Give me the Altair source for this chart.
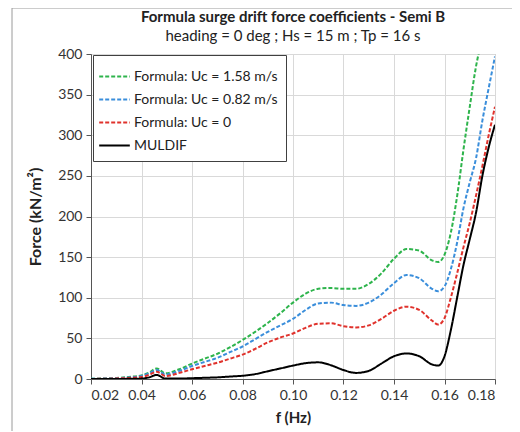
import altair as alt
import pandas as pd

freq = [0.02, 0.025, 0.03, 0.035, 0.04, 0.043, 0.046, 0.0495, 0.055, 0.06, 0.065, 0.07,
        0.075, 0.08, 0.085, 0.09, 0.095, 0.10, 0.105, 0.11, 0.115, 0.12, 0.125, 0.13,
        0.135, 0.14, 0.145, 0.15, 0.155, 0.1575, 0.16, 0.1625, 0.165, 0.1675, 0.17,
        0.1725, 0.175, 0.1775, 0.18]

uc158 = [0.3, 0.6, 1.2, 2.5, 4.5, 8, 13, 7, 12, 19, 25, 31,
         39, 48, 58, 69, 81, 94, 105, 111, 112, 111, 111, 117,
         130, 148, 160, 158, 146, 144, 153, 180, 225, 282, 335,
         385, 420, 450, 480]

uc082 = [0.2, 0.5, 1.0, 2.0, 3.8, 7, 11, 5.5, 10, 16, 21, 26,
         33, 40, 49, 58, 66, 74, 85, 93, 94, 91, 90, 94,
         104, 118, 128, 124, 111, 108, 114, 135, 168, 210, 242,
         272, 318, 358, 397]

uc0 = [0.1, 0.3, 0.7, 1.3, 2.5, 5, 9, 3.7, 7.5, 12, 16, 20,
       25, 30, 37, 45, 51, 56, 63, 68, 68.5, 65, 63.5, 66,
       74, 84, 89, 85, 72, 67, 75, 100, 130, 162, 192,
       226, 262, 300, 335]

muldif = [0.0, 0.05, 0.1, 0.2, 0.5, 2, 5, 0.5, 0.5, 1, 1.5, 2,
          3, 4, 6, 9.5, 13, 16.5, 19.5, 20.5, 17, 11, 7.5, 10,
          19, 28, 31.5, 28, 18, 16.5, 28, 60, 100, 140, 172,
          205, 250, 285, 313]

series_names = ["Formula: Uc = 1.58 m/s", "Formula: Uc = 0.82 m/s", "Formula: Uc = 0", "MULDIF"]
series_vals = [uc158, uc082, uc0, muldif]
series_colors = ["#2eb44c", "#3a8edb", "#e0322c", "#000000"]
series_dash = [[4, 2], [4, 2], [4, 2], [1, 0]]

rows = []
for name, vals in zip(series_names, series_vals):
    for f, v in zip(freq, vals):
        rows.append({"f": f, "force": v, "series": name})
df = pd.DataFrame(rows)

font = "Lato"


def make_legend():
    return alt.Legend(title=None, orient="none", legendX=2, legendY=1,
                      symbolType="M-1.25,0H1.25", symbolSize=600,
                      symbolStrokeWidth=2, labelFontSize=14,
                      labelFont=font, labelColor="#222222",
                      rowPadding=2, padding=8, labelOffset=6,
                      fillColor="white", strokeColor="#404040")


lines = alt.Chart(df).mark_line(strokeWidth=2, interpolate="monotone", clip=True).encode(
    x=alt.X("f:Q", title="f (Hz)",
            scale=alt.Scale(domain=[0.02, 0.18], nice=False),
            axis=alt.Axis(values=[0.02, 0.04, 0.06, 0.08, 0.10, 0.12, 0.14, 0.16, 0.18],
                          format=".2f")),
    y=alt.Y("force:Q", title="Force (kN/m²)",
            scale=alt.Scale(domain=[0, 400], nice=False),
            axis=alt.Axis(values=[0, 50, 100, 150, 200, 250, 300, 350, 400])),
    color=alt.Color("series:N", scale=alt.Scale(domain=series_names, range=series_colors),
                    legend=make_legend()),
    strokeDash=alt.StrokeDash("series:N", scale=alt.Scale(domain=series_names, range=series_dash),
                              legend=make_legend()),
    order=alt.Order("series:N"),
)

frame_src = pd.DataFrame({"k": [0]})
left_border = alt.Chart(frame_src).mark_rule(color="#9a9a9a", strokeWidth=1).encode(
    x=alt.value(-79), y=alt.value(-46), y2=alt.value(400))
top_border = alt.Chart(frame_src).mark_rule(color="#9a9a9a", strokeWidth=1).encode(
    x=alt.value(-79), x2=alt.value(450), y=alt.value(-46))

chart = alt.layer(left_border, top_border, lines).properties(
    width=404, height=325,
    title=alt.TitleParams("Formula surge drift force coefficients - Semi B",
                          subtitle="heading = 0 deg ; Hs = 15 m ; Tp = 16 s",
                          anchor="middle", font=font, fontSize=15, fontWeight="bold",
                          color="#222222", subtitleFont=font, subtitleFontSize=15,
                          subtitleColor="#222222", subtitlePadding=4, offset=-36),
    autosize=alt.AutoSizeParams(type="none"),
    padding={"left": 83, "top": 46, "right": 17, "bottom": 52},
).configure_view(stroke="#a6a6a6", strokeWidth=1).configure_axis(
    labelFont=font, labelFontSize=14, labelColor="#333333",
    titleFont=font, titleFontSize=15, titleFontWeight="bold", titleColor="#222222",
    gridColor="#d9d9d9", gridWidth=1, domainColor="#555555", tickColor="#555555",
    tickSize=5, labelPadding=4,
).configure_axisY(titlePadding=14, titleFontSize=16).configure_axisX(titlePadding=8)

chart.save("out.html", embed_options={"renderer": "svg", "actions": False})
